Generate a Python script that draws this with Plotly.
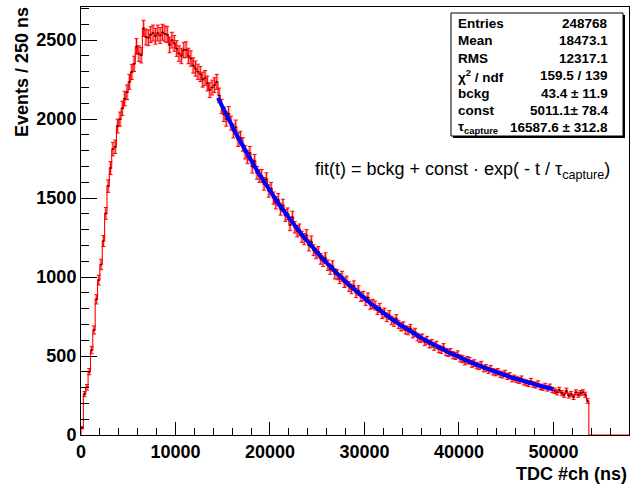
import numpy as np
import plotly.graph_objects as go

# ---------------- data ----------------
BIN_WIDTH = 250  # ns
counts = [
    46, 259, 302, 401, 538, 665, 859, 981, 1080, 1228,
    1403, 1576, 1690, 1810, 1825, 1956, 2000, 2068, 2130, 2170,
    2236, 2299, 2350, 2460, 2415, 2405, 2575, 2520, 2515, 2535,
    2545, 2525, 2545, 2530, 2550, 2540, 2535, 2470, 2500, 2480,
    2447, 2415, 2400, 2437, 2440, 2400, 2384, 2340, 2320, 2300,
    2285, 2250, 2260, 2226, 2184, 2200, 2215, 2236, 2150, 2080,
    2030, 2000, 2035, 1975, 1925, 1950, 1870, 1880, 1840, 1790,
    1760, 1785, 1700, 1735, 1660, 1640, 1640, 1590, 1620, 1545,
    1560, 1500, 1470, 1490, 1430, 1455, 1390, 1400, 1330, 1380,
    1315, 1290, 1300, 1255, 1240, 1265, 1200, 1225, 1170, 1150,
    1160, 1115, 1100, 1120, 1075, 1050, 1070, 1020, 1015, 990,
    1005, 965, 975, 940, 925, 945, 900, 915, 875, 880,
    850, 870, 825, 830, 820, 790, 805, 765, 775, 745,
    760, 725, 715, 735, 700, 685, 690, 665, 660, 675,
    640, 650, 620, 610, 615, 590, 600, 575, 580, 560,
    570, 545, 540, 555, 525, 520, 525, 505, 500, 510,
    485, 480, 465, 475, 470, 450, 455, 440, 435, 445,
    420, 425, 410, 420, 400, 395, 400, 385, 380, 390,
    370, 375, 355, 360, 350, 345, 355, 335, 330, 325,
    340, 320, 315, 325, 305, 300, 310, 295, 305, 285,
    280, 270, 285, 265, 255, 280, 250, 260, 240, 270,
    255, 265, 270, 255, 215,
]
n_empty_bins = 17  # empty bins up to the axis end

fit_bckg = 43.4
fit_const = 5011.1
fit_tau = 16587.6
fit_range = [14500, 50000]

stats_labels = ["Entries", "Mean", "RMS", "χ<sup>2</sup> / ndf", "bckg", "const",
                "τ<sub>capture</sub>"]
stats_values = ["248768", "18473.1", "12317.1", "159.5 / 139", "43.4 ± 11.9",
                "5011.1± 78.4", "16587.6 ± 312.8"]

x_tick_vals = [0, 10000, 20000, 30000, 40000, 50000]
x_tick_text = ["0", "10000", "20000", "30000", "40000", "50000"]
y_tick_vals = [0, 500, 1000, 1500, 2000, 2500]
y_tick_text = ["0", "500", "1000", "1500", "2000", "2500"]

x_range = [0, 58000]
y_range = [0, 2710]

# ---------------- derived ----------------
all_counts = np.array(counts + [0] * n_empty_bins, dtype=float)
n_bins = len(all_counts)
edges = np.arange(n_bins + 1) * BIN_WIDTH
centers = edges[:-1] + BIN_WIDTH / 2

filled = np.array(counts, dtype=float)
filled_centers = centers[:len(counts)]
errors = np.sqrt(filled)

step_x = np.concatenate([[0], edges])
step_y = np.concatenate([[0], all_counts, [all_counts[-1]]])

fit_x = np.linspace(fit_range[0], fit_range[1], 400)
fit_y = fit_bckg + fit_const * np.exp(-fit_x / fit_tau)

# ---------------- layout helpers (pixel -> paper) ----------------
W, H = 641, 485
ML, MR, MT, MB = 81, 12, 7, 50
PW, PH = W - ML - MR, H - MT - MB


def pxx(X):
    return (X - ML) / PW


def pxy(Y):
    return (H - MB - Y) / PH


FONT = "Liberation Sans, Arial, Helvetica, sans-serif"

fig = go.Figure()

# soft band under error bars
fig.add_trace(go.Scatter(
    x=filled_centers, y=filled, mode="markers",
    marker=dict(color="rgba(255,0,0,0)", size=1),
    error_y=dict(type="data", array=errors, visible=True, color="rgba(255,60,60,0.35)",
                 thickness=3, width=0),
    hoverinfo="skip", showlegend=False))

fig.add_trace(go.Scatter(
    x=step_x, y=step_y, mode="lines", line=dict(color="rgb(255,0,0)", width=1.1, shape="hv"),
    hoverinfo="skip", showlegend=False))

fig.add_trace(go.Scatter(
    x=filled_centers, y=filled, mode="markers",
    marker=dict(color="black", size=1.5, symbol="square"),
    error_y=dict(type="data", array=errors, visible=True, color="rgb(255,0,0)",
                 thickness=1, width=2),
    showlegend=False))

fig.add_trace(go.Scatter(
    x=fit_x, y=fit_y, mode="lines", line=dict(color="rgb(0,0,255)", width=4),
    showlegend=False))

tickfont = dict(family=FONT, size=18, color="black", weight="bold")

fig.update_layout(
    width=W, height=H,
    margin=dict(l=ML, r=MR, t=MT, b=MB, pad=0),
    paper_bgcolor="white", plot_bgcolor="white",
    showlegend=False,
    xaxis=dict(
        range=x_range, tickmode="array", tickvals=x_tick_vals, ticktext=x_tick_text,
        ticks="inside", ticklen=13, tickwidth=1, tickcolor="black",
        showline=True, mirror=True, linecolor="black", linewidth=1,
        showgrid=False, zeroline=False, tickfont=tickfont,
        minor=dict(tickmode="linear", tick0=0, dtick=2000, ticks="inside", ticklen=7,
                   tickcolor="black", tickwidth=1, showgrid=False),
    ),
    yaxis=dict(
        range=y_range, tickmode="array", tickvals=y_tick_vals, ticktext=y_tick_text,
        ticks="inside", ticklen=16, tickwidth=1, tickcolor="black",
        showline=True, mirror=True, linecolor="black", linewidth=1,
        showgrid=False, zeroline=False, tickfont=tickfont,
        minor=dict(tickmode="linear", tick0=0, dtick=100, ticks="inside", ticklen=8,
                   tickcolor="black", tickwidth=1, showgrid=False),
    ),
)

annotations = []
# axis titles
annotations.append(dict(
    text="Events / 250 ns", xref="paper", yref="paper", x=pxx(22), y=pxy(5),
    xanchor="center", yanchor="top", textangle=-90, showarrow=False,
    font=dict(family=FONT, size=18, color="black", weight="bold")))
annotations.append(dict(
    text="TDC #ch (ns)", xref="paper", yref="paper", x=pxx(629), y=pxy(474),
    xanchor="right", yanchor="middle", showarrow=False,
    font=dict(family=FONT, size=18, color="black", weight="bold")))

# formula
annotations.append(dict(
    text="fit(t) = bckg + const · exp( - t / τ<sub>capture</sub>)",
    xref="paper", yref="paper", x=pxx(462), y=pxy(170),
    xanchor="center", yanchor="middle", showarrow=False,
    font=dict(family=FONT, size=18, color="black")))

# stats box
box_l, box_r, box_t, box_b = 451, 623, 13, 136
shapes = [
    dict(type="rect", xref="paper", yref="paper",
         x0=pxx(box_l + 2), x1=pxx(box_r + 2), y0=pxy(box_b + 2), y1=pxy(box_t + 2),
         fillcolor="black", line=dict(width=0), layer="above"),
    dict(type="rect", xref="paper", yref="paper",
         x0=pxx(box_l), x1=pxx(box_r), y0=pxy(box_b), y1=pxy(box_t),
         fillcolor="white", line=dict(color="black", width=1), layer="above"),
]
row0, row_step = 23.5, 17.4
for k, (lab, val) in enumerate(zip(stats_labels, stats_values)):
    yy = row0 + k * row_step
    annotations.append(dict(
        text=lab, xref="paper", yref="paper", x=pxx(456), y=pxy(yy),
        xanchor="left", yanchor="middle", showarrow=False,
        font=dict(family=FONT, size=13.5, color="black", weight="bold")))
    annotations.append(dict(
        text=val, xref="paper", yref="paper", x=pxx(610), y=pxy(yy),
        xanchor="right", yanchor="middle", showarrow=False,
        font=dict(family=FONT, size=13.5, color="black", weight="bold")))

fig.update_layout(annotations=annotations, shapes=shapes)

fig.write_html(
    "out.html",
    config={"displayModeBar": False},
    post_script="document.body.style.margin='0';document.body.style.padding='0';"
                "document.body.style.overflow='hidden';",
)
